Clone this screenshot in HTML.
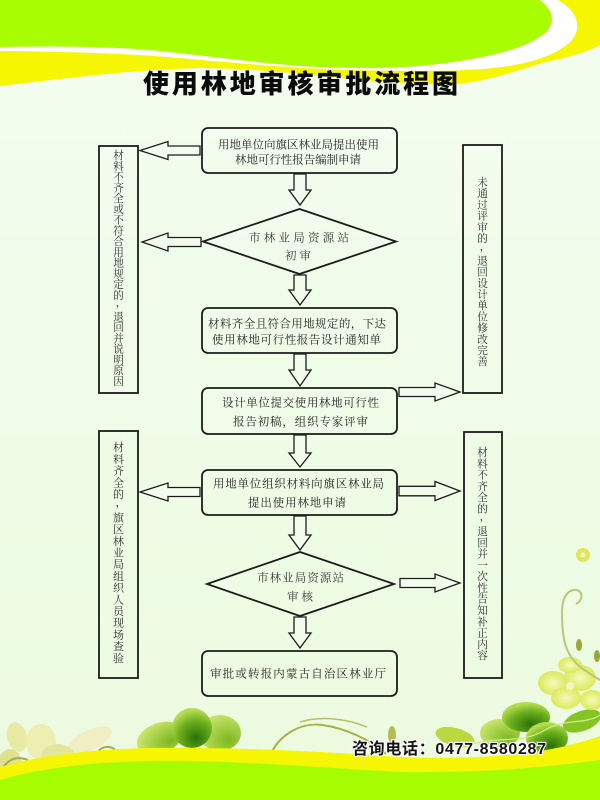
<!DOCTYPE html>
<html>
<head>
<meta charset="utf-8">
<style>
  html,body{margin:0;padding:0;background:#eefbe6;}
  svg{display:block;}
  .t{font-family:"Liberation Serif","Noto Serif CJK SC",serif;font-size:11.5px;fill:#262626;}
  .d{font-family:"Liberation Serif","Noto Serif CJK SC",serif;font-size:11.5px;fill:#3a3a3a;}
  .v{font-family:"Liberation Serif","Noto Serif CJK SC",serif;font-size:10.6px;fill:#2e2e2e;text-anchor:middle;}
  .v2{font-family:"Liberation Serif","Noto Serif CJK SC",serif;font-size:11px;fill:#2e2e2e;text-anchor:middle;}
  .title{font-family:"Liberation Sans","Noto Sans CJK SC",sans-serif;font-size:26px;font-weight:900;fill:#0a0a0a;}
  .phone{font-family:"Liberation Sans","Noto Sans CJK SC",sans-serif;font-size:16px;font-weight:bold;fill:#141414;stroke:#ffffff;stroke-width:2.2px;paint-order:stroke;}
</style>
</head>
<body>
<svg width="600" height="800" viewBox="0 0 600 800" xmlns="http://www.w3.org/2000/svg">
  <defs>
    <linearGradient id="bg" x1="0" y1="0" x2="0" y2="1">
      <stop offset="0" stop-color="#f3fdf0"/>
      <stop offset="1" stop-color="#ebfbdf"/>
    </linearGradient>
    <radialGradient id="dk" cx="0.6" cy="0.75" r="0.7">
      <stop offset="0" stop-color="#2a7008"/>
      <stop offset="0.6" stop-color="#6aae1c"/>
      <stop offset="1" stop-color="#b4dc50"/>
    </radialGradient>
    <radialGradient id="lt" cx="0.7" cy="0.7" r="0.8">
      <stop offset="0" stop-color="#7cb81e"/>
      <stop offset="1" stop-color="#cfe770"/>
    </radialGradient>
    <radialGradient id="yf" cx="0.5" cy="0.5" r="0.6">
      <stop offset="0" stop-color="#f6fab8"/>
      <stop offset="1" stop-color="#d6e64a"/>
    </radialGradient>
  </defs>

  <!-- background -->
  <rect width="600" height="800" fill="url(#bg)"/>

  <!-- top bands -->
  <path d="M0,0 H600 V45 C585,53 565,58 550,61 C525,67 485,84 450,84 C415,84 380,82 340,78 C300,74 250,68 200,68 C150,69 100,74 0,86 Z" fill="#f6f600"/>
  <path d="M0,0 H558 C576,10 583,26 572,40 C555,58 520,66 483,69 C440,72 400,71 350,70 C300,69 250,64 200,60 C150,55 100,52 0,51 Z" fill="#ffffff"/>
  <path d="M0,0 H540 C553,10 556,22 546,32 C526,50 480,60 420,66 C380,69 330,68 300,66 C250,62 200,55 150,50 C100,46 50,46 0,47 Z" fill="#a8fd02"/>

  <!-- title -->
  <text class="title" x="143" y="93" textLength="315" lengthAdjust="spacing">使用林地审核审批流程图</text>

  <!-- bottom decorations (behind bands) -->
  <g>
    <!-- pale flower left -->
    <ellipse cx="90" cy="740" rx="24" ry="10" transform="rotate(-25 90 740)" fill="#f0efc4"/>
    <ellipse cx="17" cy="737" rx="10" ry="15" transform="rotate(-15 17 737)" fill="#e8eaa6"/>
    <ellipse cx="41" cy="742" rx="15" ry="18" fill="#eceeb2"/>
    <ellipse cx="58" cy="757" rx="17" ry="13" fill="#e3e79c"/>
    <ellipse cx="10" cy="765" rx="12" ry="16" fill="#dde28e"/>
    <path d="M0,775 C5,760 15,755 28,760" stroke="#a6aa50" stroke-width="2" fill="none"/>
    <path d="M97,753 C102,745 112,745 117,752" stroke="#a6aa50" stroke-width="2" fill="none"/>
    <!-- dark clover -->
    <ellipse cx="160" cy="738" rx="24" ry="15" transform="rotate(-20 160 738)" fill="url(#lt)"/>
    <ellipse cx="220" cy="733" rx="21" ry="18" fill="url(#lt)"/>
    <ellipse cx="192" cy="728" rx="20" ry="20" fill="url(#dk)"/>
    <!-- vine middle -->
    <path d="M268,762 C275,736 300,722 322,725 C346,728 370,740 386,754" stroke="#a8b048" stroke-width="2" fill="none"/>
    <path d="M300,722 C320,716 345,718 367,727" stroke="#b8c060" stroke-width="1.5" fill="none"/>
    <ellipse cx="392" cy="735" rx="4" ry="9" fill="#b4bc58"/>
    <!-- right cluster -->
    <ellipse cx="455" cy="737" rx="20" ry="9" transform="rotate(15 455 737)" fill="#bcd840"/>
    <ellipse cx="500" cy="733" rx="20" ry="14" fill="url(#lt)"/>
    <ellipse cx="526" cy="717" rx="24" ry="15" fill="url(#dk)"/>
    <ellipse cx="547" cy="738" rx="21" ry="16" fill="url(#dk)"/>
    <ellipse cx="582" cy="721" rx="20" ry="10" transform="rotate(-20 582 721)" fill="#86c424"/>
    <path d="M470,745 C500,735 520,745 545,730 C565,718 585,725 600,715" stroke="#c8f080" stroke-width="1.3" fill="none"/>
    <!-- yellow flower right -->
    <ellipse cx="553" cy="683" rx="15" ry="12" fill="url(#yf)"/>
    <ellipse cx="580" cy="678" rx="16" ry="13" fill="url(#yf)"/>
    <ellipse cx="566" cy="698" rx="15" ry="11" fill="url(#yf)"/>
    <ellipse cx="592" cy="700" rx="12" ry="10" fill="url(#yf)"/>
    <ellipse cx="570" cy="665" rx="12" ry="8" fill="url(#yf)"/>
    <circle cx="570" cy="686" r="4" fill="#f4f8c0"/>
    <!-- small flower + curl -->
    <circle cx="583" cy="555" r="7" fill="#dde760"/>
    <circle cx="583" cy="555" r="2.5" fill="#f2f6b0"/>
    <path d="M576,604 C584,600 583,589 574,590 C565,591 562,602 562,612 C562,635 564,652 578,665 C586,672 594,676 600,680" stroke="#b8c878" stroke-width="2" fill="none"/>
    <ellipse cx="579" cy="645" rx="3" ry="6" fill="#9aa830"/>
    <ellipse cx="597" cy="656" rx="3" ry="6" fill="#9aa830"/>
  </g>

  <!-- bottom bands -->
  <path d="M0,767 C40,756 90,749 150,748 C220,747 300,750 400,757 C470,760 530,755 570,745 C585,741 595,738 600,736 V800 H0 Z" fill="#f6f600"/>
  <path d="M0,780 C40,768 90,762 150,761 C230,760 300,766 400,772 C480,773 540,768 600,760 V800 H0 Z" fill="#a6fd02"/>

  <!-- phone -->
  <text class="phone" x="352" y="754" textLength="194" lengthAdjust="spacing">咨询电话：0477-8580287</text>

  <!-- main boxes -->
  <g fill="none" stroke="#1c1c1c" stroke-width="1.8">
    <rect x="202" y="128" width="195" height="45" rx="6"/>
    <rect x="202" y="308" width="195" height="45" rx="6"/>
    <rect x="202" y="388" width="195" height="46" rx="6"/>
    <rect x="202" y="470" width="195" height="45" rx="6"/>
    <rect x="202" y="651" width="195" height="45" rx="6"/>
    <!-- diamonds -->
    <polygon points="203,241.5 299.5,209 396,241.5 299.5,274"/>
    <polygon points="207,584 300,552 394,584 300,616"/>
    <!-- side boxes -->
    <rect x="99" y="146" width="39" height="247"/>
    <rect x="99" y="431" width="39" height="247"/>
    <rect x="463" y="145" width="39" height="248"/>
    <rect x="464" y="432" width="38" height="246"/>
  </g>

  <!-- arrows -->
  <g fill="#f2fcec" stroke="#1c1c1c" stroke-width="1.3" stroke-linejoin="miter">
    <polygon points="294,174 306,174 306,190 311,190 300,205 289,190 294,190"/>
    <polygon points="294,275 306,275 306,290 311,290 300,305 289,290 294,290"/>
    <polygon points="294,354 306,354 306,370 311,370 300,386 289,370 294,370"/>
    <polygon points="294,435 306,435 306,453 311,453 300,467 289,453 294,453"/>
    <polygon points="294,516 306,516 306,535 311,535 300,550 289,535 294,535"/>
    <polygon points="294,617 306,617 306,633 311,633 300,648 289,633 294,633"/>

    <polygon points="200,146 168,146 168,141.5 140,150.5 168,159.5 168,155 200,155"/>
    <polygon points="201,237.5 168,237.5 168,233 142,242 168,251 168,246.5 201,246.5"/>
    <polygon points="200,487.5 168,487.5 168,483 140,492 168,501 168,496.5 200,496.5"/>

    <polygon points="399,387.5 435,387.5 435,383 460,392 435,401 435,396.5 399,396.5"/>
    <polygon points="399,486.3 435,486.3 435,481.5 460,491 435,500.5 435,495.8 399,495.8"/>
    <polygon points="400,578.5 435,578.5 435,574 460,583 435,592 435,587.5 400,587.5"/>
  </g>

  <!-- main texts -->
  <text class="t" x="218" y="148.4" textLength="161" lengthAdjust="spacing">用地单位向旗区林业局提出使用</text>
  <text class="t" x="235" y="163.4" textLength="126" lengthAdjust="spacing">林地可行性报告编制申请</text>

  <text class="d" x="249" y="241.4" textLength="100" lengthAdjust="spacing">市林业局资源站</text>
  <text class="d" x="285" y="259.4" textLength="26" lengthAdjust="spacing">初审</text>

  <text class="t" x="208" y="327.4" textLength="178" lengthAdjust="spacing">材料齐全且符合用地规定的，下达</text>
  <text class="t" x="212" y="343.4" textLength="169" lengthAdjust="spacing">使用林地可行性报告设计通知单</text>

  <text class="t" x="222" y="406.4" textLength="157" lengthAdjust="spacing">设计单位提交使用林地可行性</text>
  <text class="t" x="233" y="425.4" textLength="135" lengthAdjust="spacing">报告初稿，组织专家评审</text>

  <text class="t" x="213" y="487.4" textLength="171" lengthAdjust="spacing">用地单位组织材料向旗区林业局</text>
  <text class="t" x="248" y="506.4" textLength="98" lengthAdjust="spacing">提出使用林地申请</text>

  <text class="d" x="257" y="581.4" textLength="87" lengthAdjust="spacing">市林业局资源站</text>
  <text class="d" x="287" y="600.4" textLength="26" lengthAdjust="spacing">审核</text>

  <text class="t" x="210" y="677.4" textLength="176" lengthAdjust="spacing">审批或转报内蒙古自治区林业厅</text>

  <!-- left box 1 vertical text -->
  <text class="v"><tspan x="118.5" y="159">材</tspan><tspan x="118.5" y="169.75">料</tspan><tspan x="118.5" y="180.5">不</tspan><tspan x="118.5" y="191.25">齐</tspan><tspan x="118.5" y="202">全</tspan><tspan x="118.5" y="212.75">或</tspan><tspan x="118.5" y="223.5">不</tspan><tspan x="118.5" y="234.25">符</tspan><tspan x="118.5" y="245">合</tspan><tspan x="118.5" y="255.75">用</tspan><tspan x="118.5" y="266.5">地</tspan><tspan x="118.5" y="277.25">规</tspan><tspan x="118.5" y="288">定</tspan><tspan x="118.5" y="298.75">的</tspan><tspan x="121" y="306">，</tspan><tspan x="118.5" y="320.25">退</tspan><tspan x="118.5" y="331">回</tspan><tspan x="118.5" y="341.75">并</tspan><tspan x="118.5" y="352.5">说</tspan><tspan x="118.5" y="363.25">明</tspan><tspan x="118.5" y="374">原</tspan><tspan x="118.5" y="384.75">因</tspan></text>

  <!-- left box 2 vertical text -->
  <text class="v2"><tspan x="118.5" y="451.2">材</tspan><tspan x="118.5" y="462.9">料</tspan><tspan x="118.5" y="474.6">齐</tspan><tspan x="118.5" y="486.3">全</tspan><tspan x="118.5" y="498">的</tspan><tspan x="121" y="506">，</tspan><tspan x="118.5" y="521.4">旗</tspan><tspan x="118.5" y="533.1">区</tspan><tspan x="118.5" y="544.8">林</tspan><tspan x="118.5" y="556.5">业</tspan><tspan x="118.5" y="568.2">局</tspan><tspan x="118.5" y="579.9">组</tspan><tspan x="118.5" y="591.6">织</tspan><tspan x="118.5" y="603.3">人</tspan><tspan x="118.5" y="615">员</tspan><tspan x="118.5" y="626.7">现</tspan><tspan x="118.5" y="638.4">场</tspan><tspan x="118.5" y="650.1">查</tspan><tspan x="118.5" y="661.8">验</tspan></text>

  <!-- right box 1 vertical text -->
  <text class="v"><tspan x="482.5" y="186">未</tspan><tspan x="482.5" y="197.2">通</tspan><tspan x="482.5" y="208.4">过</tspan><tspan x="482.5" y="219.6">评</tspan><tspan x="482.5" y="230.8">审</tspan><tspan x="482.5" y="242">的</tspan><tspan x="485" y="250">，</tspan><tspan x="482.5" y="264.4">退</tspan><tspan x="482.5" y="275.6">回</tspan><tspan x="482.5" y="286.8">设</tspan><tspan x="482.5" y="298">计</tspan><tspan x="482.5" y="309.2">单</tspan><tspan x="482.5" y="320.4">位</tspan><tspan x="482.5" y="331.6">修</tspan><tspan x="482.5" y="342.8">改</tspan><tspan x="482.5" y="354">完</tspan><tspan x="482.5" y="365.2">善</tspan></text>

  <!-- right box 2 vertical text -->
  <text class="v"><tspan x="482.5" y="456.1">材</tspan><tspan x="482.5" y="467.4">料</tspan><tspan x="482.5" y="478.7">不</tspan><tspan x="482.5" y="489.9">齐</tspan><tspan x="482.5" y="501.2">全</tspan><tspan x="482.5" y="512.5">的</tspan><tspan x="485" y="520">，</tspan><tspan x="482.5" y="535.1">退</tspan><tspan x="482.5" y="546.3">回</tspan><tspan x="482.5" y="557.6">并</tspan><tspan x="482.5" y="568.9">一</tspan><tspan x="482.5" y="580.2">次</tspan><tspan x="482.5" y="591.5">性</tspan><tspan x="482.5" y="602.7">告</tspan><tspan x="482.5" y="614">知</tspan><tspan x="482.5" y="625.3">补</tspan><tspan x="482.5" y="636.6">正</tspan><tspan x="482.5" y="647.9">内</tspan><tspan x="482.5" y="659.1">容</tspan></text>
</svg>
</body>
</html>
